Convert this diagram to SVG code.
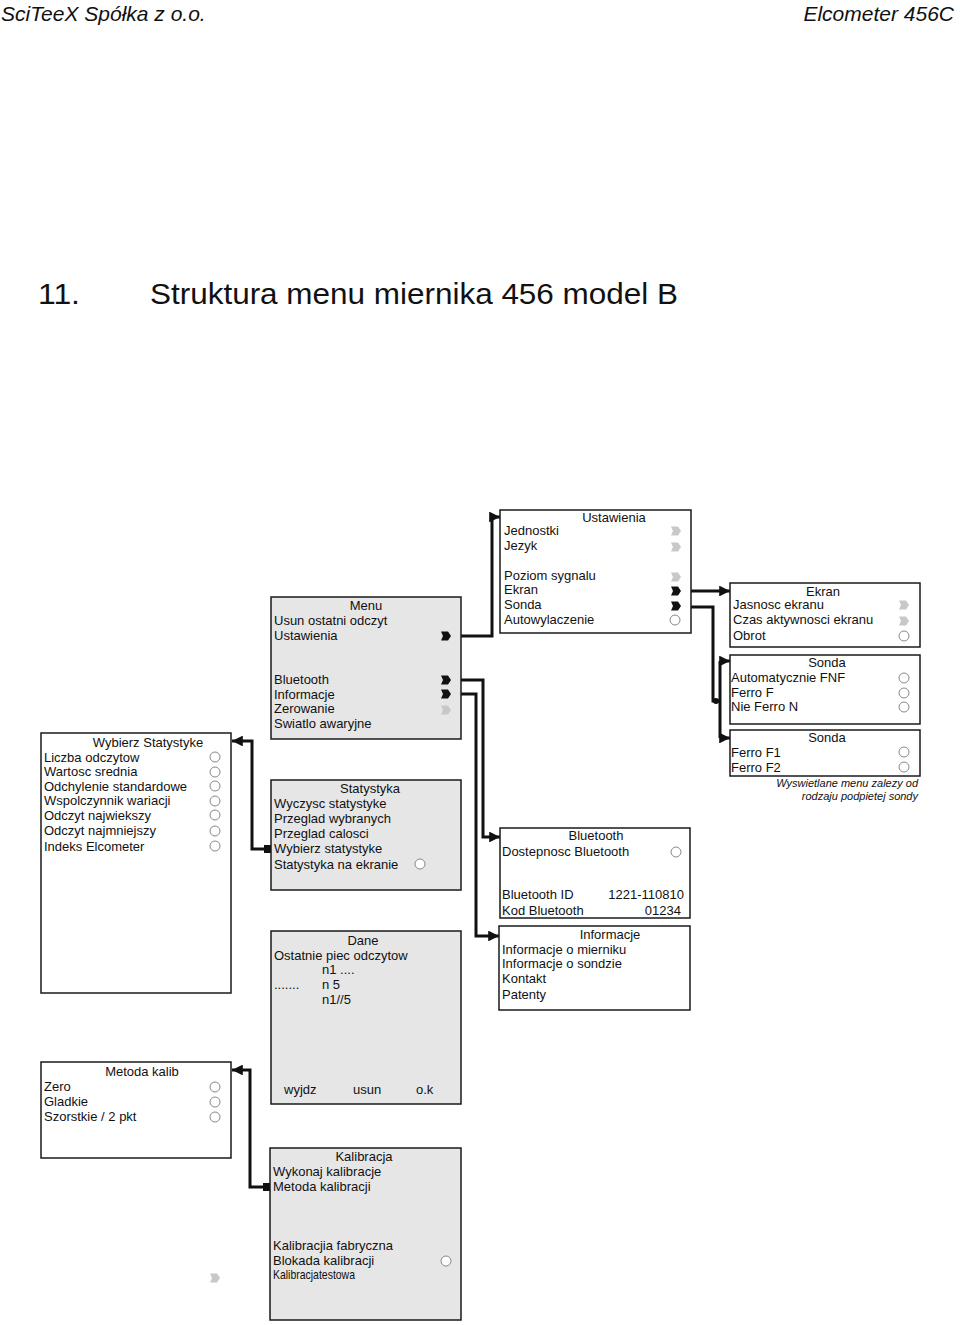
<svg xmlns="http://www.w3.org/2000/svg" width="960" height="1325" viewBox="0 0 960 1325">
<style>
.box{fill:#ffffff;stroke:#1a1a1a;stroke-width:1.5}
.gbox{fill:#e6e6e6;stroke:#1a1a1a;stroke-width:1.5}
.t{font-family:"Liberation Sans",Arial,sans-serif;font-size:13px;fill:#111}
.c{text-anchor:middle}
.r{text-anchor:end}
.rad{fill:#ffffff;stroke:#888;stroke-width:1}
.tb{fill:#111}
.tg{fill:#c8c8c8}
.con{fill:none;stroke:#111;stroke-width:3}
.note{font-family:"Liberation Sans",Arial,sans-serif;font-size:11px;font-style:italic;fill:#111;text-anchor:end}
.hd{font-family:"Liberation Sans",Arial,sans-serif;font-size:21px;font-style:italic;fill:#111}
.ti{font-family:"Liberation Sans",Arial,sans-serif;font-size:29px;fill:#111}
</style>
<defs>
<path id="tag" d="M0,-4.5 H7 L10,0 L7,4.5 H0 L2,0 Z"/>
<marker id="ah" viewBox="0 0 10 10" refX="10" refY="5" markerWidth="3.6" markerHeight="3.6" orient="auto" markerUnits="strokeWidth">
<path d="M0,0 L10,5 L0,10 Z" fill="#111"/>
</marker>
</defs>

<text class="hd" x="1" y="21">SciTeeX Spółka z o.o.</text>
<text class="hd" x="954" y="21" text-anchor="end">Elcometer 456C</text>
<text class="ti" x="38" y="304" textLength="42" lengthAdjust="spacingAndGlyphs">11.</text>
<text class="ti" x="150" y="304" textLength="528" lengthAdjust="spacingAndGlyphs">Struktura menu miernika 456 model B</text>

<g id="connectors">
<path class="con" d="M450,636 H492 V517 H500" marker-end="url(#ah)"/>
<path class="con" d="M681,591 H730" marker-end="url(#ah)"/>
<path class="con" d="M681,607 H713 V701 H720"/>
<path class="con" d="M720,661 H730" marker-end="url(#ah)"/>
<path class="con" d="M720,738 H730" marker-end="url(#ah)"/>
<path class="con" d="M720,661 V738"/>
<circle cx="716" cy="701" r="3" fill="#111"/>
<path class="con" d="M450,680 H483 V837 H500" marker-end="url(#ah)"/>
<path class="con" d="M450,694 H476 V936 H499" marker-end="url(#ah)"/>
<path class="con" d="M266,849 H252 V741 H232" marker-end="url(#ah)"/>
<rect x="264" y="845" width="7" height="8" fill="#111"/>
<path class="con" d="M264,1187 H250 V1070 H232" marker-end="url(#ah)"/>
<rect x="263" y="1183" width="8" height="8" fill="#111"/>
</g>

<g id="ustawienia">
<rect class="box" x="500" y="510" width="191" height="123"/>
<text class="t c" x="614" y="522">Ustawienia</text>
<text class="t" x="504" y="535">Jednostki</text>
<text class="t" x="504" y="550">Jezyk</text>
<text class="t" x="504" y="580">Poziom sygnalu</text>
<text class="t" x="504" y="594">Ekran</text>
<text class="t" x="504" y="609">Sonda</text>
<text class="t" x="504" y="624">Autowylaczenie</text>
<use href="#tag" class="tg" x="671" y="531"/>
<use href="#tag" class="tg" x="671" y="547"/>
<use href="#tag" class="tg" x="671" y="577"/>
<use href="#tag" class="tb" x="671" y="591"/>
<use href="#tag" class="tb" x="671" y="606"/>
<circle class="rad" cx="675" cy="620" r="5"/>
</g>

<g id="menu">
<rect class="gbox" x="271" y="597" width="190" height="142"/>
<text class="t c" x="366" y="610">Menu</text>
<text class="t" x="274" y="625">Usun ostatni odczyt</text>
<text class="t" x="274" y="640">Ustawienia</text>
<text class="t" x="274" y="684">Bluetooth</text>
<text class="t" x="274" y="699">Informacje</text>
<text class="t" x="274" y="713">Zerowanie</text>
<text class="t" x="274" y="728">Swiatlo awaryjne</text>
<use href="#tag" class="tb" x="441" y="636"/>
<use href="#tag" class="tb" x="441" y="680"/>
<use href="#tag" class="tb" x="441" y="694"/>
<use href="#tag" class="tg" x="441" y="710"/>
</g>

<g id="ekran">
<rect class="box" x="730" y="583" width="190" height="64"/>
<text class="t c" x="823" y="596">Ekran</text>
<text class="t" x="733" y="609">Jasnosc ekranu</text>
<text class="t" x="733" y="624">Czas aktywnosci ekranu</text>
<text class="t" x="733" y="640">Obrot</text>
<use href="#tag" class="tg" x="899" y="605"/>
<use href="#tag" class="tg" x="899" y="621"/>
<circle class="rad" cx="904" cy="636" r="5"/>
</g>

<g id="sonda1">
<rect class="box" x="730" y="655" width="190" height="69"/>
<text class="t c" x="827" y="667">Sonda</text>
<text class="t" x="731" y="682">Automatycznie FNF</text>
<text class="t" x="731" y="697">Ferro F</text>
<text class="t" x="731" y="711">Nie Ferro N</text>
<circle class="rad" cx="904" cy="678" r="5"/>
<circle class="rad" cx="904" cy="693" r="5"/>
<circle class="rad" cx="904" cy="707" r="5"/>
</g>

<g id="sonda2">
<rect class="box" x="730" y="730" width="190" height="46"/>
<text class="t c" x="827" y="742">Sonda</text>
<text class="t" x="731" y="757">Ferro F1</text>
<text class="t" x="731" y="772">Ferro F2</text>
<circle class="rad" cx="904" cy="752" r="5"/>
<circle class="rad" cx="904" cy="767" r="5"/>
<text class="note" x="918" y="787">Wyswietlane menu zalezy od</text>
<text class="note" x="918" y="800">rodzaju podpietej sondy</text>
</g>

<g id="wybierz">
<rect class="box" x="41" y="733" width="190" height="260"/>
<text class="t c" x="148" y="747">Wybierz Statystyke</text>
<text class="t" x="44" y="762">Liczba odczytow</text>
<text class="t" x="44" y="776">Wartosc srednia</text>
<text class="t" x="44" y="791">Odchylenie standardowe</text>
<text class="t" x="44" y="805">Wspolczynnik wariacji</text>
<text class="t" x="44" y="820">Odczyt najwiekszy</text>
<text class="t" x="44" y="835">Odczyt najmniejszy</text>
<text class="t" x="44" y="851">Indeks Elcometer</text>
<circle class="rad" cx="215" cy="757" r="5"/>
<circle class="rad" cx="215" cy="772" r="5"/>
<circle class="rad" cx="215" cy="786" r="5"/>
<circle class="rad" cx="215" cy="801" r="5"/>
<circle class="rad" cx="215" cy="815" r="5"/>
<circle class="rad" cx="215" cy="831" r="5"/>
<circle class="rad" cx="215" cy="846" r="5"/>
</g>

<g id="statystyka">
<rect class="gbox" x="271" y="780" width="190" height="110"/>
<text class="t c" x="370" y="793">Statystyka</text>
<text class="t" x="274" y="808">Wyczysc statystyke</text>
<text class="t" x="274" y="823">Przeglad wybranych</text>
<text class="t" x="274" y="838">Przeglad calosci</text>
<text class="t" x="274" y="853">Wybierz statystyke</text>
<text class="t" x="274" y="869">Statystyka na ekranie</text>
<circle class="rad" cx="420" cy="864" r="5"/>
</g>

<g id="bluetooth">
<rect class="box" x="500" y="828" width="190" height="90"/>
<text class="t c" x="596" y="840">Bluetooth</text>
<text class="t" x="502" y="856">Dostepnosc Bluetooth</text>
<circle class="rad" cx="676" cy="852" r="5"/>
<text class="t" x="502" y="899">Bluetooth  ID</text>
<text class="t r" x="684" y="899">1221-110810</text>
<text class="t" x="502" y="915">Kod  Bluetooth</text>
<text class="t r" x="681" y="915">01234</text>
</g>

<g id="informacje">
<rect class="box" x="499" y="926" width="191" height="84"/>
<text class="t c" x="610" y="939">Informacje</text>
<text class="t" x="502" y="954">Informacje o mierniku</text>
<text class="t" x="502" y="968">Informacje o sondzie</text>
<text class="t" x="502" y="983">Kontakt</text>
<text class="t" x="502" y="999">Patenty</text>
</g>

<g id="dane">
<rect class="gbox" x="271" y="931" width="190" height="173"/>
<text class="t c" x="363" y="945">Dane</text>
<text class="t" x="274" y="960">Ostatnie piec odczytow</text>
<text class="t" x="322" y="974">n1 ....</text>
<text class="t" x="274" y="989">.......</text>
<text class="t" x="322" y="989">n 5</text>
<text class="t" x="322" y="1004">n1//5</text>
<text class="t" x="284" y="1094">wyjdz</text>
<text class="t" x="353" y="1094">usun</text>
<text class="t" x="416" y="1094">o.k</text>
</g>

<g id="metoda">
<rect class="box" x="41" y="1062" width="190" height="96"/>
<text class="t c" x="142" y="1076">Metoda kalib</text>
<text class="t" x="44" y="1091">Zero</text>
<text class="t" x="44" y="1106">Gladkie</text>
<text class="t" x="44" y="1121">Szorstkie / 2 pkt</text>
<circle class="rad" cx="215" cy="1087" r="5"/>
<circle class="rad" cx="215" cy="1102" r="5"/>
<circle class="rad" cx="215" cy="1117" r="5"/>
</g>

<g id="kalibracja">
<rect class="gbox" x="270" y="1148" width="191" height="172"/>
<text class="t c" x="364" y="1161">Kalibracja</text>
<text class="t" x="273" y="1176">Wykonaj kalibracje</text>
<text class="t" x="273" y="1191">Metoda kalibracji</text>
<text class="t" x="273" y="1250">Kalibracjia fabryczna</text>
<text class="t" x="273" y="1265">Blokada kalibracji</text>
<text class="t" x="273" y="1279" textLength="82" lengthAdjust="spacingAndGlyphs">Kalibracjatestowa</text>
<circle class="rad" cx="446" cy="1261" r="5"/>
<use href="#tag" class="tg" x="210" y="1278"/>
</g>
</svg>
